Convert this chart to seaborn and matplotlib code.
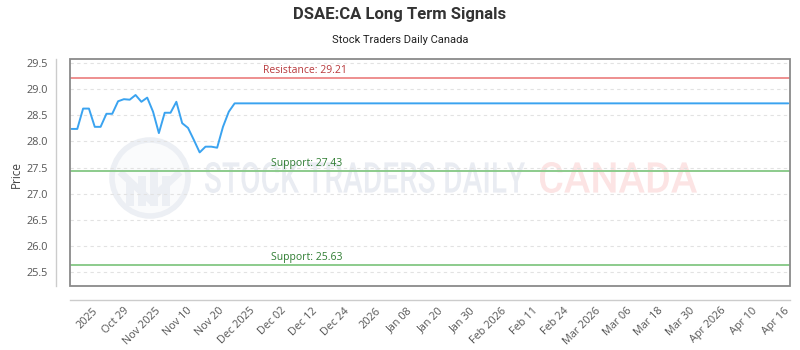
import matplotlib

matplotlib.use("Agg")
import matplotlib.pyplot as plt
import numpy as np
import seaborn as sns
from matplotlib.font_manager import FontProperties
from matplotlib.patches import Circle, PathPatch, Polygon, Rectangle
from matplotlib.textpath import TextPath
from matplotlib.transforms import Affine2D

sns.set_theme(style="white")
plt.rcParams["font.family"] = ["Open Sans", "DejaVu Sans"]

# --- data ------------------------------------------------------------------
recent_prices = [28.24, 28.24, 28.63, 28.63, 28.28, 28.28, 28.53, 28.53, 28.77,
                 28.81, 28.80, 28.89, 28.76, 28.84, 28.57, 28.16, 28.55, 28.55,
                 28.76, 28.35, 28.26, 28.03, 27.79, 27.90, 27.90, 27.88, 28.28,
                 28.57, 28.73]
projected_price = 28.73
n_projected = 95
prices = recent_prices + [projected_price] * n_projected

tick_labels = ["2025", "Oct 29", "Nov 2025", "Nov 10", "Nov 20", "Dec 2025",
               "Dec 02", "Dec 12", "Dec 24", "2026", "Jan 08", "Jan 20",
               "Jan 30", "Feb 2026", "Feb 11", "Feb 24", "Mar 2026", "Mar 06",
               "Mar 18", "Mar 30", "Apr 2026", "Apr 10", "Apr 16"]

levels = [("Resistance", 29.21), ("Support", 27.43), ("Support", 25.63)]
y_ticks = [25.5, 26.0, 26.5, 27.0, 27.5, 28.0, 28.5, 29.0, 29.5]

BLUE = "#3aa3f0"
RED_LINE, RED_TXT = "#ee8f8f", "#b8383b"
GREEN_LINE, GREEN_TXT = "#8ccb8c", "#2f7d32"
H = 350  # figure height in px, used for the watermark placement


def _pix(x, y):
    """top-left pixel coords -> display transform"""
    return Affine2D().translate(x, H - y)


def _wm_text(ax, s, x0, x1, ytop, ybot, color):
    tp = TextPath((0, 0), s, size=100,
                  prop=FontProperties(family="Roboto", weight="medium"))
    bb = tp.get_extents()
    tr = (Affine2D().translate(-bb.x0, -bb.y0)
          .scale((x1 - x0) / bb.width, (ybot - ytop) / bb.height)
          .translate(x0, H - ybot))
    ax.add_patch(PathPatch(tp, transform=tr, fc=color, ec="none",
                           zorder=0.5, clip_on=False))


fig, ax = plt.subplots(figsize=(8, 3.5), dpi=100)
fig.patch.set_facecolor("white")
fig.subplots_adjust(left=70 / 800, right=790 / 800, top=1 - 59 / H, bottom=1 - 286 / H)

# watermark
ax.add_patch(Circle((0, 0), 38, transform=_pix(150, 178), fc="#fafbfc",
                    ec="#eceff4", lw=4, zorder=0.4, clip_on=False))
ax.add_patch(Polygon([(-30, 6), (0, -22), (30, 6)], closed=False, fill=False,
                     ec="#eceff4", lw=5, transform=_pix(150, 178), zorder=0.5,
                     clip_on=False))
for bx, bh in [(-24, 26), (-12, 30), (0, 38), (12, 30)]:
    ax.add_patch(Rectangle((bx, -28), 8, bh, transform=_pix(150, 178),
                           fc="#eceff4", ec="none", zorder=0.5, clip_on=False))
_wm_text(ax, "STOCK TRADERS DAILY", 205, 525, 162, 193, "#e9ecf2")
_wm_text(ax, "CANADA", 540, 697, 162, 193, "#fce4e4")

x = np.arange(len(prices))
sns.lineplot(x=x, y=prices, color=BLUE, lw=1.4, ax=ax, zorder=3)

for name, val in levels:
    lc, tc = (RED_LINE, RED_TXT) if name == "Resistance" else (GREEN_LINE, GREEN_TXT)
    ax.axhline(val, color=lc, lw=1.4, zorder=2)
    ax.annotate(f"{name}: {val:.2f}", (32.8 if name == "Resistance" else 34.2, val),
                xytext=(0, 1.5), textcoords="offset points", ha="left",
                va="bottom", fontsize=7.5, color=tc, zorder=4)

# spines first: set_position() resets the ticks
for side in ("top", "right"):
    ax.spines[side].set_visible(False)
for side in ("left", "bottom"):
    ax.spines[side].set_position(("outward", 10))
    ax.spines[side].set_color("#cccccc")
    ax.spines[side].set_linewidth(1)
ax.add_patch(Rectangle((0, 0), 1, 1, transform=ax.transAxes, fill=False,
                       ec="#8a8a8a", lw=1.3, zorder=5, clip_on=False))

ax.set_xlim(-0.25, 123.3)
ax.set_ylim(25.23, 29.58)
ax.set_yticks(y_ticks)
ax.set_yticklabels([f"{v:.1f}" for v in y_ticks])
ax.set_xticks(np.linspace(3.6, 122.2, len(tick_labels)))
ax.set_xticklabels(tick_labels)
ax.tick_params(axis="both", length=0, labelsize=7.8, labelcolor="#555555")
ax.tick_params(axis="x", pad=4)
ax.tick_params(axis="y", pad=6)
plt.setp(ax.get_xticklabels(), rotation=45, ha="right", rotation_mode="anchor")
ax.yaxis.grid(True, color="#e2e2e2", ls=(0, (3, 3)), lw=0.8)
ax.set_axisbelow(True)
ax.patch.set_alpha(0)

ax.set_ylabel("")
fig.text(16 / 800, 1 - 175 / H, "Price", rotation=90, ha="center", va="center",
         fontsize=8.5, color="#444444")
fig.text(0.5, 1 - 15 / H, "DSAE:CA Long Term Signals", ha="center", va="center",
         fontsize=12, fontweight="bold", color="#333333", family="Roboto")
fig.text(0.5, 1 - 40 / H, "Stock Traders Daily Canada", ha="center", va="center",
         fontsize=8, color="#222222", family="Roboto")

fig.savefig("out.png", dpi=100)
